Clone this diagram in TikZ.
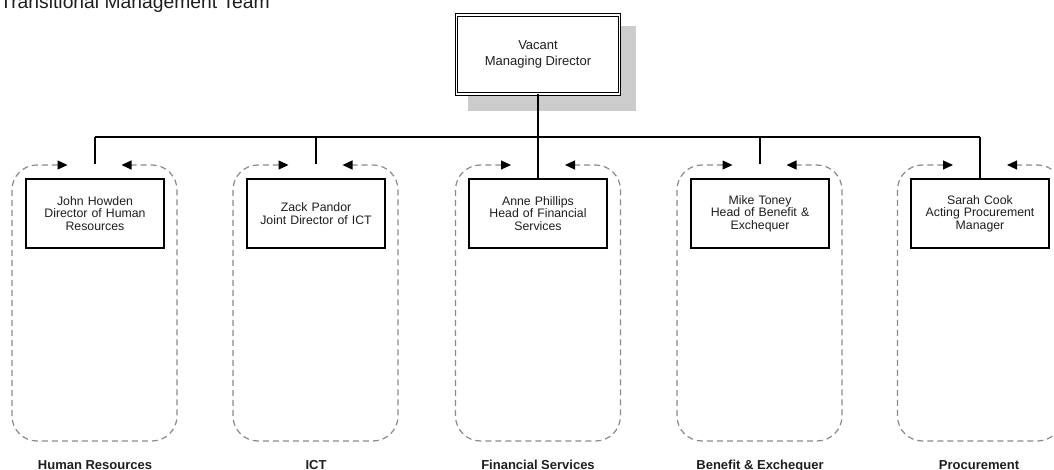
\documentclass[tikz,border=0pt]{standalone}
\usepackage{fontspec}
\setmainfont{Liberation Sans}
\usetikzlibrary{arrows.meta, calc, positioning}
\definecolor{shadowgrey}{HTML}{CCCCCC}
\definecolor{loopgrey}{HTML}{8A8A8A}
\definecolor{inktext}{HTML}{1E1E1E}

\begin{document}
\begin{tikzpicture}[
    x=1pt, y=-1pt,
    headbox/.style={draw, double, double distance=1.6pt, line width=0.9pt, fill=white,
                    minimum width=163pt, minimum height=79pt, inner sep=0pt, align=center,
                    font=\fontsize{13}{16}\selectfont, text=inktext},
    staffbox/.style={draw, line width=1.1pt, fill=white, minimum width=138pt,
                     minimum height=69pt, text width=132pt, inner sep=0pt, align=center,
                     font=\fontsize{12.3}{12.5}\selectfont, text=inktext},
    teamloop/.style={draw=loopgrey, line width=1.2pt, dash pattern=on 6pt off 4pt,
                     rounded corners=25pt,
                     arrows={Triangle[length=10pt, width=9pt, color=black]-Triangle[length=10pt, width=9pt, color=black]}},
    teamlabel/.style={font=\fontsize{13}{15}\selectfont\bfseries, text=inktext, anchor=base},
    wire/.style={line width=1.1pt},
]

\useasboundingbox (0,0) rectangle (1054,470);

% title, clipped at the top edge
\node[anchor=base west, inner sep=0pt, font=\fontsize{19.3}{22}\selectfont, text=inktext]
    (title) at (0,8.5) {Transitional Management Team};

% managing director with its shadow
\fill[shadowgrey] (468,26) rectangle (636,111);
\node[headbox] (md) at (538,54.5) {Vacant\\Managing Director};

% team loops (dashed, arrows pointing at the link)
\foreach \c in {94.5, 315.5, 538, 759.5, 980} {
    \draw[teamloop] (\c-27,165) -- (\c-82.5,165) -- (\c-82.5,441)
        -- (\c+82.5,441) -- (\c+82.5,165) -- (\c+27,165);
}

% heads of service
\node[staffbox] (howden)   at (95,213.5)  {John Howden\\Director of Human\\Resources};
\node[staffbox] (pandor)   at (316,213.5) {Zack Pandor\\Joint Director of ICT};
\node[staffbox] (phillips) at (538,213.5) {Anne Phillips\\Head of Financial\\Services};
\node[staffbox] (toney)    at (760,213.5) {Mike Toney\\Head of Benefit \&\\Exchequer};
\node[staffbox] (cook)     at (980,213.5) {Sarah Cook\\Acting Procurement\\Manager};

% reporting lines
\coordinate (bus) at (538,137);
\draw[wire] (howden.north |- bus) -- (cook.north |- bus);
\draw[wire] (md.south) -- (phillips.north);
\draw[wire] (cook.north |- bus) -- (cook.north);
\foreach \nm in {howden, pandor, toney} {
    \coordinate (\nm stub) at ($(\nm.north)+(0,-14)$);
    \draw[wire] (\nm.north |- bus) -- (\nm stub);
}

% team names
\foreach \c/\lab/\nm in {95/{Human Resources}/hrteam, 316/{ICT}/ictteam,
                        538/{Financial Services}/fsteam, 760/{Benefit \& Exchequer}/beteam,
                        979/{Procurement}/procteam} {
    \node[teamlabel] (\nm) at (\c,469) {\lab};
}

\end{tikzpicture}
\end{document}
